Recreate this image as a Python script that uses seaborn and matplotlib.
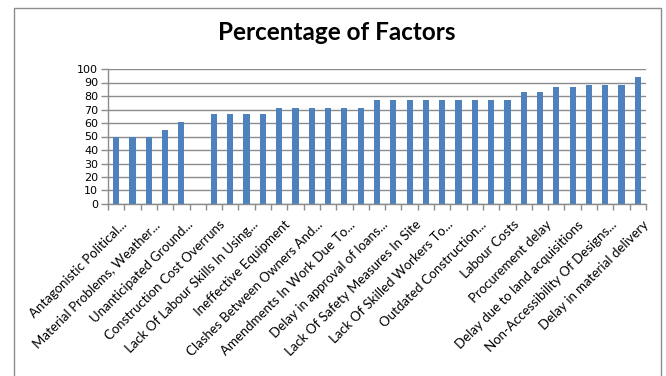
import numpy as np
import pandas as pd
import matplotlib
matplotlib.use("Agg")
import matplotlib.pyplot as plt
import matplotlib.transforms as mtransforms
import seaborn as sns
from matplotlib.patches import Rectangle

# values per factor (33 factors, only every second one is labelled on the axis)
values = [50, 50, 50, 55, 61, 0, 67, 67, 67, 67, 71, 71, 71, 71, 71, 71,
          77, 77, 77, 77, 77, 77, 77, 77, 77, 83, 83, 87, 87, 88, 88, 88, 94]
shown_labels = ["Antagonistic Political...", "Material Problems, Weather...",
                "Unanticipated Ground...", "Construction Cost Overruns",
                "Lack Of Labour Skills In Using...", "Ineffective Equipment",
                "Clashes Between Owners And...", "Amendments In Work Due To...",
                "Delay in approval of loans...", "Lack Of Safety Measures In Site",
                "Lack Of Skilled Workers To...", "Outdated Construction...",
                "Labour Costs", "Procurement delay", "Delay due to land acquisitions",
                "Non-Accessibility Of Designs...", "Delay in material delivery"]
y_ticks = list(range(0, 101, 10))

df = pd.DataFrame({"factor": range(len(values)), "percent": values})

sns.set_theme(style="white")
plt.rcParams["font.family"] = ["Lato", "DejaVu Sans"]
plt.rcParams["text.color"] = "black"
plt.rcParams["xtick.color"] = "black"
plt.rcParams["ytick.color"] = "black"

W, H = 666, 376
fig = plt.figure(figsize=(W / 100, H / 100), dpi=100)
ax = fig.add_axes([108 / W, 1 - 204 / H, (646 - 108) / W, (204 - 69) / H])

sns.barplot(data=df, x="factor", y="percent", color="#4F81BD", width=0.38,
            linewidth=0, saturation=1, ax=ax)

ax.set_ylim(0, 100)
ax.set_xlim(-0.5, len(values) - 0.5)
ax.set_yticks(y_ticks)
ax.set_yticklabels([str(v) for v in y_ticks], fontsize=8, family="DejaVu Sans")
ax.yaxis.grid(True, color="#8c8c8c", linewidth=1)
ax.set_axisbelow(True)
ax.tick_params(axis="y", length=5, color="#8c8c8c", width=1, pad=2, left=True,
               labelcolor="black")

ax.set_xticks(range(0, len(values), 2))
ax.set_xticklabels(shown_labels, rotation=45, ha="right", va="top",
                   rotation_mode="anchor", fontsize=9.5)
ax.tick_params(axis="x", length=0, pad=9, labelcolor="black")
# nudge the rotated labels a little right, like Excel places them
shift = mtransforms.ScaledTranslation(5 / 100, -2 / 100, fig.dpi_scale_trans)
for lbl in ax.get_xticklabels():
    lbl.set_transform(lbl.get_transform() + shift)
ax.set_xticks(np.arange(-0.5, len(values), 1), minor=True)
ax.tick_params(axis="x", which="minor", length=4, color="#8c8c8c", width=1, bottom=True)

for side in ["top", "right"]:
    ax.spines[side].set_visible(False)
for side in ["left", "bottom"]:
    ax.spines[side].set_color("#8c8c8c")
    ax.spines[side].set_linewidth(1)
ax.set_xlabel("")
ax.set_ylabel("")

fig.text(337 / W, 1 - 33 / H, "Percentage of Factors", ha="center", va="center",
         fontsize=17.5, fontweight="bold", color="black")

fig.patches.append(Rectangle((13.5 / W, -0.1), (661 - 13.5) / W, 1 - 8 / H + 0.1,
                             transform=fig.transFigure, fill=False,
                             edgecolor="#8c8c8c", linewidth=1))

fig.savefig("out.png", dpi=100)
